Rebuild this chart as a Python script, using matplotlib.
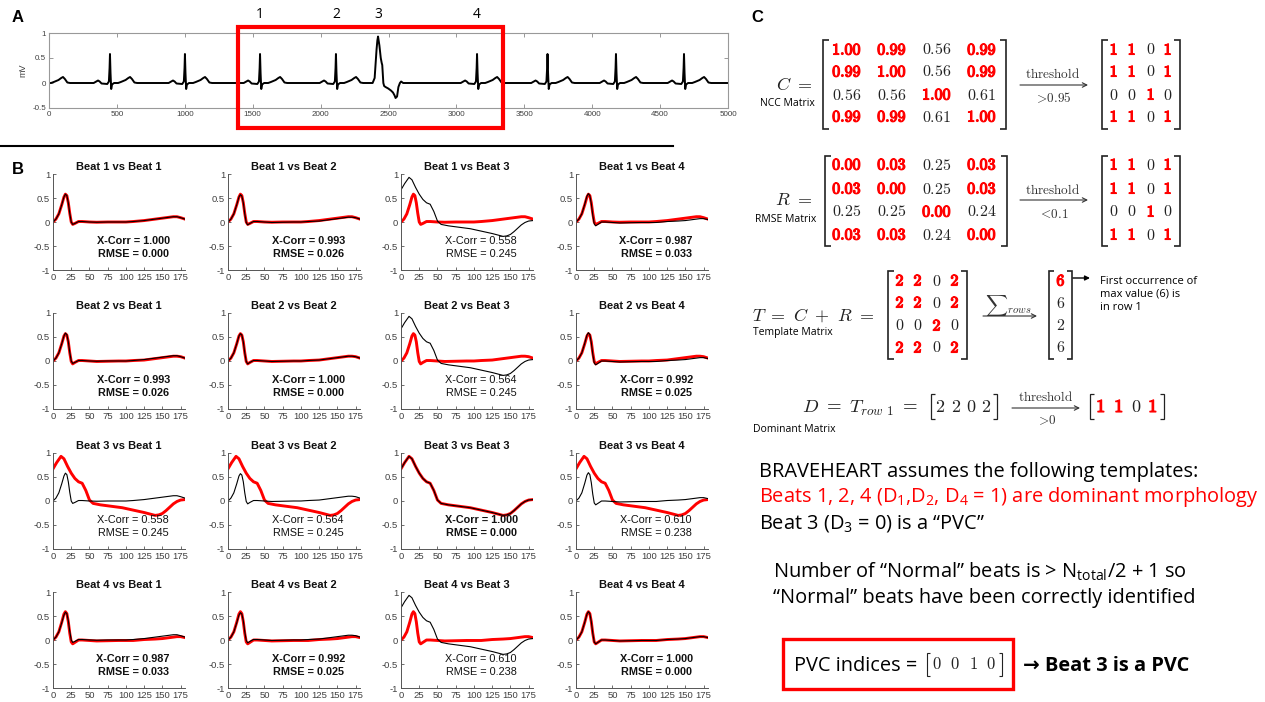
import numpy as np
import matplotlib
matplotlib.use('Agg')
import matplotlib.pyplot as plt
import matplotlib.patheffects as pe
from matplotlib.patches import Rectangle

plt.rcParams['axes.unicode_minus'] = False
plt.rcParams['mathtext.fontset'] = 'cm'
plt.rcParams['mathtext.rm'] = 'Open Sans'
plt.rcParams['mathtext.it'] = 'Open Sans:italic'
plt.rcParams['mathtext.bf'] = 'Open Sans:bold'

# ---------------- data ----------------
# Panel A: ECG strip, beat positions (samples) and beat shapes (offset from peak, mV)
strip_normal_peaks = [-45, 449, 1001, 1554, 2113, 3152, 3671, 4175, 4676, 5180]
strip_pvc_peaks = [2423]
strip_normal_off = [-120, -100, -88, -76, -62, -20, -8, -3, 0, 4, 9, 15, 30, 45, 60, 80, 115, 135, 148, 162, 180, 200]
strip_normal_val = [0.0, 0.03, 0.05, 0.03, -0.01, -0.02, 0.03, 0.30, 0.58, 0.20, -0.12, -0.03, 0.0, 0.0, 0.0, 0.02, 0.06, 0.10, 0.12, 0.08, 0.01, 0.0]
strip_pvc_off = [-40, -25, -11, -5, 0, 10, 20, 27, 31, 39, 45, 55, 75, 95, 110, 122, 129, 140, 150, 161, 170, 185]
strip_pvc_val = [0.0, 0.10, 0.67, 0.85, 0.93, 0.75, 0.50, 0.40, 0.36, 0.0, -0.06, -0.08, -0.11, -0.15, -0.19, -0.25, -0.30, -0.27, -0.08, 0.0, 0.03, 0.0]
beat_labels = ['1', '2', '3', '4']
beat_label_pos = [1554, 2113, 2423, 3152]

# Panel B: beat templates (sample index, mV)
beat_x_normal = [0, 4, 8, 12, 15, 17, 19, 21, 23, 25, 27, 30, 35, 40, 50, 60, 75, 90, 100, 110, 125, 140, 150, 160, 165, 170, 175, 181]
beat1 = [0.0, 0.06, 0.17, 0.36, 0.52, 0.58, 0.55, 0.40, 0.18, 0.0, -0.05, -0.03, 0.01, 0.01, 0.0, -0.005, 0.0, 0.0, 0.0, 0.01, 0.03, 0.06, 0.08, 0.10, 0.11, 0.11, 0.09, 0.06]
beat2 = [0.0, 0.06, 0.17, 0.36, 0.52, 0.57, 0.54, 0.40, 0.17, -0.01, -0.06, -0.03, 0.01, 0.01, 0.0, -0.01, -0.005, 0.0, 0.0, 0.01, 0.02, 0.05, 0.07, 0.09, 0.10, 0.10, 0.09, 0.06]
beat4 = [0.0, 0.06, 0.17, 0.37, 0.54, 0.59, 0.55, 0.38, 0.14, -0.04, -0.08, -0.05, 0.0, 0.0, -0.01, -0.02, -0.015, -0.01, -0.01, -0.01, 0.01, 0.02, 0.03, 0.05, 0.06, 0.07, 0.07, 0.05]
beat_x_pvc = [0, 5, 11, 15, 20, 25, 30, 35, 40, 45, 50, 55, 65, 80, 95, 110, 125, 135, 140, 145, 150, 155, 160, 165, 170, 175, 181]
beat3 = [0.67, 0.80, 0.93, 0.88, 0.72, 0.58, 0.47, 0.40, 0.37, 0.22, 0.02, -0.05, -0.08, -0.11, -0.14, -0.19, -0.24, -0.28, -0.30, -0.29, -0.26, -0.20, -0.13, -0.06, -0.01, 0.02, 0.03]

xcorr = [[1.000, 0.993, 0.558, 0.987],
         [0.993, 1.000, 0.564, 0.992],
         [0.558, 0.564, 1.000, 0.610],
         [0.987, 0.992, 0.610, 1.000]]
rmse = [[0.000, 0.026, 0.245, 0.033],
        [0.026, 0.000, 0.245, 0.025],
        [0.245, 0.245, 0.000, 0.238],
        [0.033, 0.025, 0.238, 0.000]]

# Panel C matrices
C_matrix = [[1.00, 0.99, 0.56, 0.99],
            [0.99, 1.00, 0.56, 0.99],
            [0.56, 0.56, 1.00, 0.61],
            [0.99, 0.99, 0.61, 1.00]]
R_matrix = [[0.00, 0.03, 0.25, 0.03],
            [0.03, 0.00, 0.25, 0.03],
            [0.25, 0.25, 0.00, 0.24],
            [0.03, 0.03, 0.24, 0.00]]
C_threshold = 0.95
R_threshold = 0.1
pvc_indices = [0, 0, 1, 0]

# ---------------- figure ----------------
W, H = 1265, 702
fig = plt.figure(figsize=(W / 100, H / 100), dpi=100)
fig.patch.set_facecolor('white')


def ax_px(l, t, r, b):
    return fig.add_axes([l / W, 1 - b / H, (r - l) / W, (b - t) / H])


SANS_B = ['Liberation Sans', 'DejaVu Sans']
TICKC = '#404040'

# ---- Panel A ----
axA = ax_px(49, 33, 728, 108)
xs, ys = [], []
segs = [(p, strip_normal_off, strip_normal_val) for p in strip_normal_peaks] + \
       [(p, strip_pvc_off, strip_pvc_val) for p in strip_pvc_peaks]
segs.sort(key=lambda s: s[0])
for p, off, val in segs:
    xs.extend([p + o for o in off])
    ys.extend(val)
axA.plot(xs, ys, color='black', lw=1.4)
axA.set_xlim(0, 5000)
axA.set_ylim(-0.5, 1)
axA.set_xticks(np.arange(0, 5001, 500))
axA.set_yticks([-0.5, 0, 0.5, 1])
axA.set_yticklabels(['-0.5', '0', '0.5', '1'])
axA.tick_params(direction='in', length=3, width=0.6, labelsize=5.8, colors='#888888',
                labelcolor=TICKC, top=True, right=True, pad=2)
for t in axA.get_xticklabels() + axA.get_yticklabels():
    t.set_family(SANS_B)
for s in axA.spines.values():
    s.set_color('#999999')
    s.set_linewidth(0.8)
axA.set_ylabel('mV', fontsize=6.5, family=SANS_B, color=TICKC, labelpad=4)

# ---- Panel B ----
beats = {1: (beat_x_normal, beat1), 2: (beat_x_normal, beat2),
         3: (beat_x_pvc, beat3), 4: (beat_x_normal, beat4)}
col_left = [53, 228, 401, 576]
row_top = [174, 313, 453, 592]
for i in range(4):
    for j in range(4):
        ax = ax_px(col_left[j], row_top[i], col_left[j] + 132, row_top[i] + 96)
        rx, ry = beats[i + 1]
        bx, by = beats[j + 1]
        ax.plot(rx, ry, color='#ff0000', lw=2.1)
        ax.plot(bx, by, color='black', lw=0.8)
        ax.set_xlim(0, 181)
        ax.set_ylim(-1, 1)
        ax.set_xticks(np.arange(0, 176, 25))
        ax.set_yticks([-1, -0.5, 0, 0.5, 1])
        ax.set_yticklabels(['-1', '-0.5', '0', '0.5', '1'])
        ax.tick_params(direction='in', length=2.5, width=0.6, labelsize=6.8,
                       colors='#555555', labelcolor=TICKC, pad=2)
        for t in ax.get_xticklabels() + ax.get_yticklabels():
            t.set_family(SANS_B)
        for k in ['top', 'right']:
            ax.spines[k].set_visible(False)
        for k in ['left', 'bottom']:
            ax.spines[k].set_color('#555555')
            ax.spines[k].set_linewidth(0.7)
        ax.set_title(f'Beat {i + 1} vs Beat {j + 1}', fontsize=8, fontweight='bold',
                     family=SANS_B, pad=3, color='#111111')
        same = xcorr[i][j] > C_threshold
        fw = 'bold' if same else 'normal'
        ax.text(110, -0.40, f'X-Corr = {xcorr[i][j]:.3f}', ha='center', va='center',
                fontsize=7.8, fontweight=fw, family=SANS_B, color='#111111')
        ax.text(110, -0.67, f'RMSE = {rmse[i][j]:.3f}', ha='center', va='center',
                fontsize=7.8, fontweight=fw, family=SANS_B, color='#111111')

# ---- overlay in pixel coordinates ----
ov = fig.add_axes([0, 0, 1, 1], zorder=10)
ov.set_xlim(0, W)
ov.set_ylim(H, 0)
ov.axis('off')
ov.patch.set_alpha(0)

SEG = ['Open Sans', 'DejaVu Sans']
INK = '#222222'
RED = '#ff0000'
BOLD_FX = [pe.withStroke(linewidth=0.9, foreground=RED)]

# panel letters
ov.text(18, 18, 'A', fontsize=12, fontweight='bold', family=SANS_B, ha='center', va='center')
ov.text(18, 170, 'B', fontsize=12, fontweight='bold', family=SANS_B, ha='center', va='center')
ov.text(757, 18, 'C', fontsize=12, fontweight='bold', family=SANS_B, ha='center', va='center')

# separator line
ov.plot([0, 673], [146, 146], color='black', lw=1.5)

# red box panel A and beat labels
ov.add_patch(Rectangle((238, 27), 265, 101, fill=False, ec=RED, lw=3))
for lab, pos in zip(beat_labels, beat_label_pos):
    ov.text(49 + pos * 679 / 5000, 14, lab, fontsize=10, family=SEG, ha='center', va='center')


def bracket(x, y0, y1, side, serif=6, lw=1.2):
    d = serif if side == 'l' else -serif
    ov.plot([x + d, x, x, x + d], [y0, y0, y1, y1], color=INK, lw=lw,
            solid_joinstyle='miter', solid_capstyle='butt')


def entry(x, y, txt, red, size=11.5):
    s = r'$\mathbf{' + txt + '}$' if red else r'$' + txt + '$'
    t = ov.text(x, y, s, fontsize=size, ha='center', va='center',
                color=RED if red else INK)
    if red:
        t.set_path_effects(BOLD_FX)


def arrow(x0, x1, y, head='->', lw=0.8, ms=8, color='#333333'):
    ov.annotate('', xy=(x1, y), xytext=(x0, y),
                arrowprops=dict(arrowstyle=head, lw=lw, color=color, shrinkA=0, shrinkB=0,
                                mutation_scale=ms))


def matrix(vals, fmt, mask, cols, rows, bl, br, y0, y1, size=11.5):
    for r_i, y in enumerate(rows):
        for c_i, x in enumerate(cols):
            entry(x, y, fmt.format(vals[r_i][c_i]), mask[r_i][c_i], size)
    bracket(bl, y0, y1, 'l')
    bracket(br, y0, y1, 'r')


Cm = np.array(C_matrix)
Rm = np.array(R_matrix)
Cb = (Cm > C_threshold).astype(int)
Rb = (Rm < R_threshold).astype(int)
Tm = Cb + Rb
Tsum = Tm.sum(axis=1)
first_max = int(np.argmax(Tsum))
Dvec = Tm[first_max]
Db = (Dvec > 0).astype(int)

big_cols = [847, 892, 937, 982]
small_cols = [1114, 1132, 1151, 1168]

# C
rowsC = [50, 72, 95, 117]
matrix(Cm, '{:.2f}', Cb, big_cols, rowsC, 823, 1006, 40, 129)
matrix(Cb, '{:d}', Cb, small_cols, rowsC, 1102, 1180, 40, 129)
ov.text(794, 85, r'$C\ =$', fontsize=13, ha='center', va='center', color=INK)
ov.text(787, 103, 'NCC Matrix', fontsize=7.5, family=SEG, ha='center', va='center', color='black')
arrow(1020, 1088, 85)
ov.text(1053, 74, r'$\mathrm{threshold}$', fontsize=9.5, ha='center', va='center', color='#333333')
ov.text(1053, 98, r'$>\!0.95$', fontsize=9.5, ha='center', va='center', color='#333333')

# R
rowsR = [165, 189, 212, 235]
matrix(Rm, '{:.2f}', Rb, big_cols, rowsR, 825, 1007, 156, 246)
matrix(Rb, '{:d}', Rb, small_cols, rowsR, 1102, 1180, 156, 246)
ov.text(794, 200, r'$R\ =$', fontsize=13, ha='center', va='center', color=INK)
ov.text(786, 219, 'RMSE Matrix', fontsize=7.5, family=SEG, ha='center', va='center', color='black')
arrow(1020, 1088, 200)
ov.text(1053, 190, r'$\mathrm{threshold}$', fontsize=9.5, ha='center', va='center', color='#333333')
ov.text(1053, 215, r'$<\!0.1$', fontsize=9.5, ha='center', va='center', color='#333333')

# T
rowsT = [281, 303, 326, 348]
matrix(Tm, '{:d}', Tm > 0, [900, 918, 937, 955], rowsT, 888, 967, 271, 359)
ov.text(813, 316, r'$T\ =\ C\ +\ R\ =$', fontsize=13, ha='center', va='center', color=INK)
ov.text(753, 333, 'Template Matrix', fontsize=7.5, family=SEG, ha='left', va='center', color='black')
arrow(983, 1037, 316)
ov.text(1008, 305, r'$\sum{}_{rows}$', fontsize=11, ha='center', va='center', color='#333333')
for r_i, y in enumerate(rowsT):
    entry(1061, y, f'{Tsum[r_i]:d}', r_i == first_max)
bracket(1049, 271, 359, 'l', serif=5)
bracket(1072, 271, 359, 'r', serif=5)
arrow(1073, 1090, 278, head='-|>', lw=1.0, ms=7, color='black')
ov.text(1100, 294, 'First occurrence of\nmax value (6) is\nin row 1', fontsize=8, family=SEG,
        ha='left', va='center', linespacing=1.25, color='black')

# D
ov.text(802, 413, r'$D\ =\ T_{row\ 1}\ =$', fontsize=13.5, ha='left', va='baseline', color=INK)
for k, x in enumerate([940, 956, 971, 986]):
    entry(x, 407, f'{Dvec[k]:d}', False, size=13)
bracket(931, 394, 419, 'l', serif=4, lw=0.9)
bracket(997, 394, 419, 'r', serif=4, lw=0.9)
arrow(1012, 1080, 408)
ov.text(1046, 397, r'$\mathrm{threshold}$', fontsize=9.5, ha='center', va='center', color='#333333')
ov.text(1046, 420, r'$>\!0$', fontsize=9.5, ha='center', va='center', color='#333333')
for k, x in enumerate([1101, 1119, 1136, 1153]):
    entry(x, 407, f'{Db[k]:d}', Db[k] == 1, size=13)
bracket(1090, 394, 419, 'l', serif=4, lw=0.9)
bracket(1164, 394, 419, 'r', serif=4, lw=0.9)
ov.text(753, 430, 'Dominant Matrix', fontsize=7.5, family=SEG, ha='left', va='center', color='black')

# text block
fs = 14
l1 = ov.text(759, 477, 'BRAVEHEART assumes the following templates:', fontsize=fs, family=SEG,
             ha='left', va='baseline', color='black')
fig.canvas.draw()
rend = fig.canvas.get_renderer()
bb = l1.get_window_extent(renderer=rend)
fs = fs * 439 / bb.width
l1.set_fontsize(fs)
ov.text(759, 502, r'Beats 1, 2, 4 (D$_\mathrm{1}$,D$_\mathrm{2}$, D$_\mathrm{4}$ = 1) are dominant morphology',
        fontsize=fs, family=SEG, ha='left', va='baseline', color=RED, math_fontfamily='custom')
ov.text(759, 528, r'Beat 3 (D$_\mathrm{3}$ = 0) is a “PVC”', fontsize=fs, family=SEG,
        ha='left', va='baseline', color='black', math_fontfamily='custom')
ov.text(773, 578, r'Number of “Normal” beats is > N$_\mathrm{total}$/2 + 1 so', fontsize=fs, family=SEG,
        ha='left', va='baseline', color='black', math_fontfamily='custom')
ov.text(773, 603, '“Normal” beats have been correctly identified', fontsize=fs, family=SEG,
        ha='left', va='baseline', color='black')

# PVC indices box
ov.add_patch(Rectangle((783, 639), 230, 50, fill=False, ec=RED, lw=2.4))
ov.text(794, 671, 'PVC indices =', fontsize=fs, family=SEG, ha='left', va='baseline', color='black')
for k, x in enumerate([937, 955, 973, 991]):
    ov.text(x, 664, f'${pvc_indices[k]:d}$', fontsize=12, ha='center', va='center', color=INK)
bracket(927, 653, 676, 'l', serif=3, lw=0.8)
bracket(1002, 653, 676, 'r', serif=3, lw=0.8)
ov.text(1023, 671, '→ Beat 3 is a PVC', fontsize=fs, family=SEG, fontweight='bold',
        ha='left', va='baseline', color='black')

fig.savefig('out.png', dpi=100, facecolor='white')
